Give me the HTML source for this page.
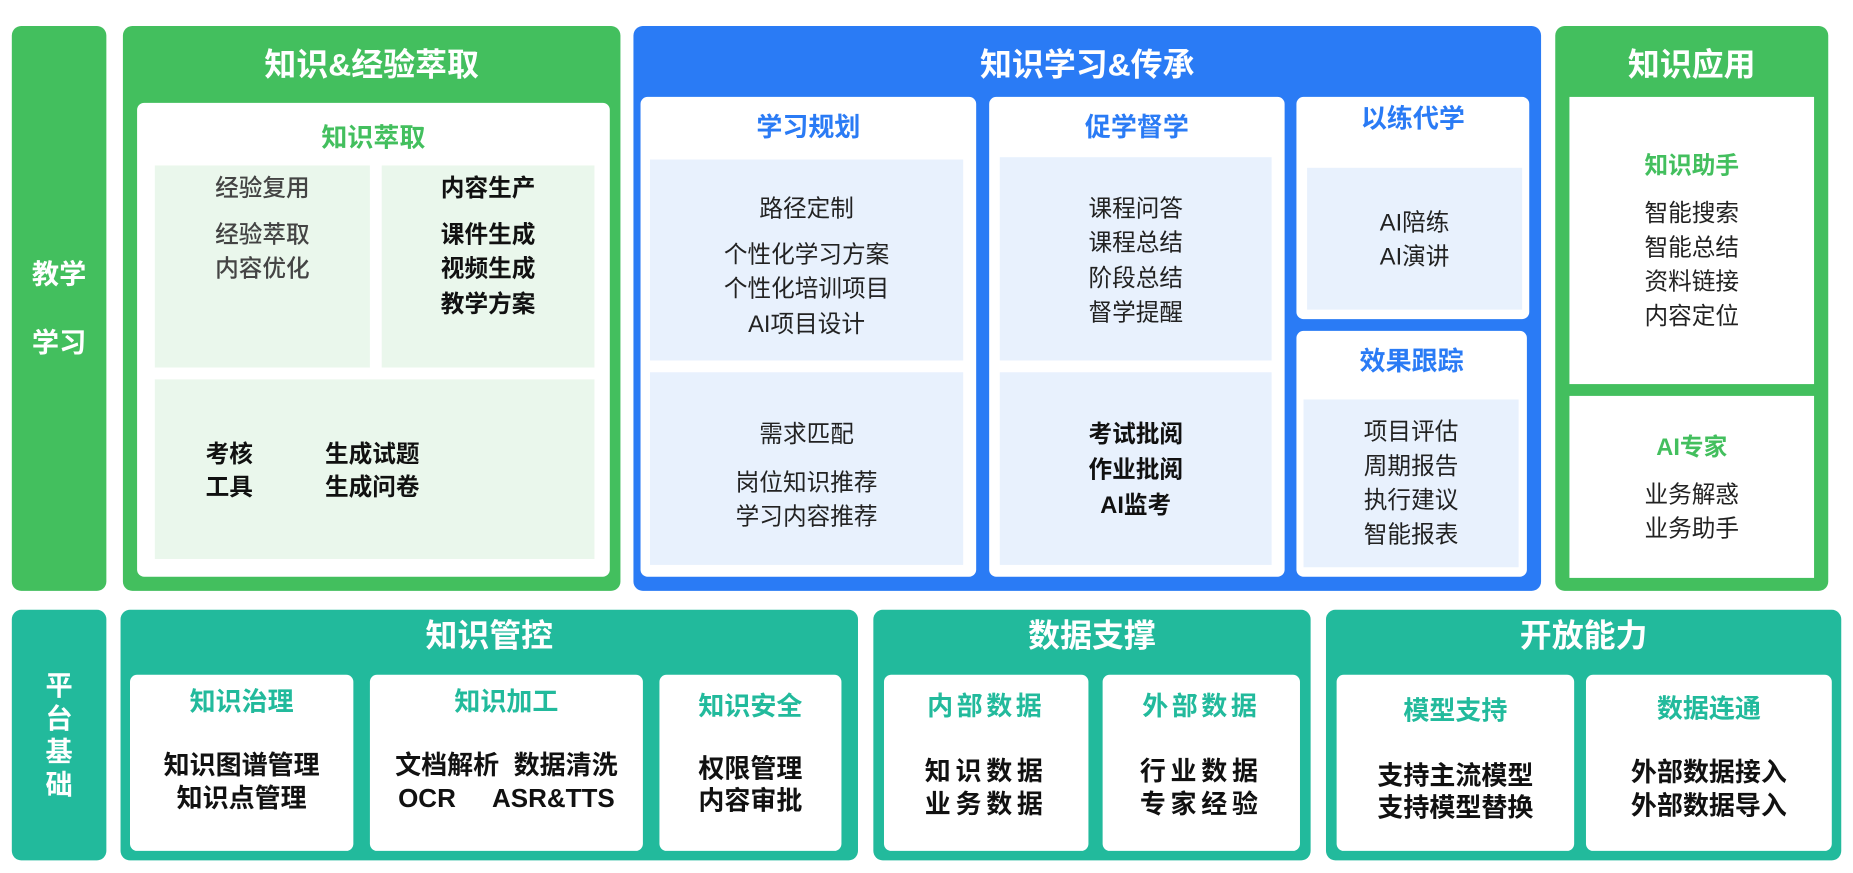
<!DOCTYPE html>
<html><head><meta charset="utf-8"><style>
*{margin:0;padding:0;box-sizing:border-box}
html,body{width:1853px;height:873px;overflow:hidden;background:#fff}
#s{position:absolute;left:0;top:0;width:1568px;height:739px;transform:scale(1.1818);transform-origin:0 0;font-family:"Liberation Sans","Noto Sans CJK SC",sans-serif}
.b{position:absolute;border-radius:8px}
.g{background:#43BF5E}.bl{background:#2A7BF5}.tl{background:#22BA9C}
.w{background:#fff;border-radius:6px}
.lg{background:#EAF7EC;position:absolute}
.lb{background:#E8F1FD;position:absolute}
.t{position:absolute;text-align:center;line-height:24px;font-size:20px;color:#222;white-space:nowrap}
.h{font-size:27px;font-weight:bold;color:#fff;line-height:30px}
.sh{font-size:22px;font-weight:bold;line-height:26px}
.bd{font-weight:bold;color:#111}
.gy{color:#444;font-weight:500}
.bt{font-size:22px}
</style></head><body><div id="s">
<!-- top row -->
<div class="b g" style="left:10px;top:22px;width:80px;height:478px"></div>
<div class="t h" style="left:10px;width:80px;top:217px;font-size:23px">教学</div>
<div class="t h" style="left:10px;width:80px;top:275px;font-size:23px">学习</div>

<div class="b g" style="left:104px;top:22px;width:421px;height:478px"></div>
<div class="t h" style="left:104px;width:421px;top:40px">知识&amp;经验萃取</div>
<div class="b w" style="left:116px;top:87px;width:400px;height:401px"></div>
<div class="t sh" style="left:116px;width:400px;top:104px;color:#43BF5E">知识萃取</div>
<div class="lg" style="left:131px;top:140px;width:182px;height:171px"></div>
<div class="lg" style="left:323px;top:140px;width:180px;height:171px"></div>
<div class="lg" style="left:131px;top:321px;width:372px;height:152px"></div>
<div class="t gy" style="left:131px;width:182px;top:148px">经验复用</div>
<div class="t gy" style="left:131px;width:182px;top:187px">经验萃取</div>
<div class="t gy" style="left:131px;width:182px;top:216px">内容优化</div>
<div class="t bd" style="left:323px;width:180px;top:148px">内容生产</div>
<div class="t bd" style="left:323px;width:180px;top:187px">课件生成</div>
<div class="t bd" style="left:323px;width:180px;top:216px">视频生成</div>
<div class="t bd" style="left:323px;width:180px;top:246px">教学方案</div>
<div class="t bd" style="left:174px;top:373px">考核</div>
<div class="t bd" style="left:174px;top:401px">工具</div>
<div class="t bd" style="left:275px;top:373px">生成试题</div>
<div class="t bd" style="left:275px;top:401px">生成问卷</div>

<div class="b bl" style="left:536px;top:22px;width:768px;height:478px"></div>
<div class="t h" style="left:536px;width:768px;top:40px">知识学习&amp;传承</div>
<div class="b w" style="left:542px;top:82px;width:284px;height:406px"></div>
<div class="t sh" style="left:542px;width:284px;top:95px;color:#2A7BF5">学习规划</div>
<div class="lb" style="left:550px;top:135px;width:265px;height:170px"></div>
<div class="lb" style="left:550px;top:315px;width:265px;height:163px"></div>
<div class="t" style="left:550px;width:265px;top:165px">路径定制</div>
<div class="t" style="left:550px;width:265px;top:204px">个性化学习方案</div>
<div class="t" style="left:550px;width:265px;top:233px">个性化培训项目</div>
<div class="t" style="left:550px;width:265px;top:263px">AI项目设计</div>
<div class="t" style="left:550px;width:265px;top:356px">需求匹配</div>
<div class="t" style="left:550px;width:265px;top:397px">岗位知识推荐</div>
<div class="t" style="left:550px;width:265px;top:426px">学习内容推荐</div>

<div class="b w" style="left:837px;top:82px;width:250px;height:406px"></div>
<div class="t sh" style="left:837px;width:250px;top:95px;color:#2A7BF5">促学督学</div>
<div class="lb" style="left:846px;top:133px;width:230px;height:172px"></div>
<div class="lb" style="left:846px;top:315px;width:230px;height:163px"></div>
<div class="t" style="left:846px;width:230px;top:165px">课程问答</div>
<div class="t" style="left:846px;width:230px;top:194px">课程总结</div>
<div class="t" style="left:846px;width:230px;top:224px">阶段总结</div>
<div class="t" style="left:846px;width:230px;top:253px">督学提醒</div>
<div class="t bd" style="left:846px;width:230px;top:356px">考试批阅</div>
<div class="t bd" style="left:846px;width:230px;top:386px">作业批阅</div>
<div class="t bd" style="left:846px;width:230px;top:416px">AI监考</div>

<div class="b w" style="left:1097px;top:82px;width:197px;height:188px"></div>
<div class="t sh" style="left:1097px;width:197px;top:88px;color:#2A7BF5">以练代学</div>
<div class="lb" style="left:1106px;top:142px;width:182px;height:120px"></div>
<div class="t" style="left:1106px;width:182px;top:177px">AI陪练</div>
<div class="t" style="left:1106px;width:182px;top:206px">AI演讲</div>
<div class="b w" style="left:1097px;top:280px;width:195px;height:208px"></div>
<div class="t sh" style="left:1097px;width:195px;top:293px;color:#2A7BF5">效果跟踪</div>
<div class="lb" style="left:1103px;top:338px;width:182px;height:142px"></div>
<div class="t" style="left:1103px;width:182px;top:354px">项目评估</div>
<div class="t" style="left:1103px;width:182px;top:383px">周期报告</div>
<div class="t" style="left:1103px;width:182px;top:412px">执行建议</div>
<div class="t" style="left:1103px;width:182px;top:441px">智能报表</div>

<div class="b g" style="left:1316px;top:22px;width:231px;height:478px"></div>
<div class="t h" style="left:1316px;width:231px;top:40px">知识应用</div>
<div class="b" style="left:1328px;top:82px;width:207px;height:243px;background:#fff;border-radius:0"></div>
<div class="b" style="left:1328px;top:335px;width:207px;height:154px;background:#fff;border-radius:0"></div>
<div class="t sh" style="left:1328px;width:207px;top:128px;font-size:20px;color:#43BF5E">知识助手</div>
<div class="t" style="left:1328px;width:207px;top:169px">智能搜索</div>
<div class="t" style="left:1328px;width:207px;top:198px">智能总结</div>
<div class="t" style="left:1328px;width:207px;top:227px">资料链接</div>
<div class="t" style="left:1328px;width:207px;top:256px">内容定位</div>
<div class="t sh" style="left:1328px;width:207px;top:366px;font-size:20px;color:#43BF5E">AI专家</div>
<div class="t" style="left:1328px;width:207px;top:407px">业务解惑</div>
<div class="t" style="left:1328px;width:207px;top:436px">业务助手</div>

<!-- bottom row -->
<div class="b tl" style="left:10px;top:516px;width:80px;height:212px"></div>
<div class="t h" style="left:10px;width:80px;top:565px;font-size:23px">平</div>
<div class="t h" style="left:10px;width:80px;top:593px;font-size:23px">台</div>
<div class="t h" style="left:10px;width:80px;top:621px;font-size:23px">基</div>
<div class="t h" style="left:10px;width:80px;top:649px;font-size:23px">础</div>

<div class="b tl" style="left:102px;top:516px;width:624px;height:212px"></div>
<div class="t h" style="left:102px;width:624px;top:523px">知识管控</div>
<div class="b w" style="left:110px;top:571px;width:189px;height:149px"></div>
<div class="b w" style="left:313px;top:571px;width:231px;height:149px"></div>
<div class="b w" style="left:558px;top:571px;width:154px;height:149px"></div>
<div class="t sh" style="left:110px;width:189px;top:581px;color:#22BA9C">知识治理</div>
<div class="t sh" style="left:313px;width:231px;top:581px;color:#22BA9C">知识加工</div>
<div class="t sh" style="left:558px;width:154px;top:585px;color:#22BA9C">知识安全</div>
<div class="t bd bt" style="left:110px;width:189px;top:636px">知识图谱管理</div>
<div class="t bd bt" style="left:110px;width:189px;top:664px">知识点管理</div>
<div class="t bd bt" style="left:313px;width:231px;top:636px">文档解析&nbsp;&nbsp;数据清洗</div>
<div class="t bd bt" style="left:313px;width:231px;top:664px">OCR&nbsp;&nbsp;&nbsp;&nbsp;&nbsp;ASR&amp;TTS</div>
<div class="t bd bt" style="left:558px;width:154px;top:639px">权限管理</div>
<div class="t bd bt" style="left:558px;width:154px;top:666px">内容审批</div>

<div class="b tl" style="left:739px;top:516px;width:370px;height:212px"></div>
<div class="t h" style="left:739px;width:370px;top:523px">数据支撑</div>
<div class="b w" style="left:748px;top:571px;width:173px;height:149px"></div>
<div class="b w" style="left:933px;top:571px;width:167px;height:149px"></div>
<div class="t sh" style="left:748px;width:173px;top:585px;color:#22BA9C;letter-spacing:3px">内部数据</div>
<div class="t sh" style="left:933px;width:167px;top:585px;color:#22BA9C;letter-spacing:3px">外部数据</div>
<div class="t bd bt" style="left:748px;width:173px;top:641px;letter-spacing:4px">知识数据</div>
<div class="t bd bt" style="left:748px;width:173px;top:669px;letter-spacing:4px">业务数据</div>
<div class="t bd bt" style="left:933px;width:167px;top:641px;letter-spacing:4px">行业数据</div>
<div class="t bd bt" style="left:933px;width:167px;top:669px;letter-spacing:4px">专家经验</div>

<div class="b tl" style="left:1122px;top:516px;width:436px;height:212px"></div>
<div class="t h" style="left:1122px;width:436px;top:523px">开放能力</div>
<div class="b w" style="left:1131px;top:571px;width:201px;height:149px"></div>
<div class="b w" style="left:1342px;top:571px;width:208px;height:149px"></div>
<div class="t sh" style="left:1131px;width:201px;top:589px;color:#22BA9C">模型支持</div>
<div class="t sh" style="left:1342px;width:208px;top:587px;color:#22BA9C">数据连通</div>
<div class="t bd bt" style="left:1131px;width:201px;top:645px">支持主流模型</div>
<div class="t bd bt" style="left:1131px;width:201px;top:672px">支持模型替换</div>
<div class="t bd bt" style="left:1342px;width:208px;top:642px">外部数据接入</div>
<div class="t bd bt" style="left:1342px;width:208px;top:670px">外部数据导入</div>
</div></body></html>
